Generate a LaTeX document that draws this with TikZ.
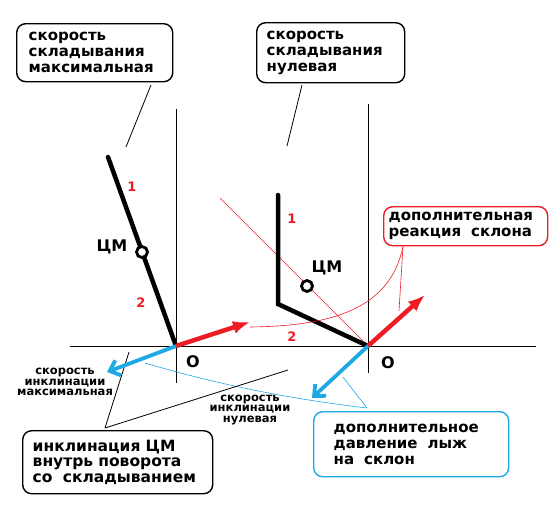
\documentclass[tikz,border=0pt]{standalone}
\usepackage{fontspec}
\setmainfont{DejaVu Sans}
\usetikzlibrary{arrows.meta,calc}
\definecolor{pred}{RGB}{237,28,36}
\definecolor{pblue}{RGB}{30,168,228}
\tikzset{
  x=1pt, y=-1pt,
  thin line/.style={line width=0.8pt},
  rbox/.style={draw, rounded corners=9pt, line width=1.4pt, align=left, anchor=north west,
    font=\bfseries\fontsize{15}{16}\selectfont, inner ysep=0pt},
  body/.style={line width=4.5pt, line cap=round, line join=miter},
  redarrow/.style={pred, line width=4.5pt, -{Latex[length=17pt,width=13pt]}},
  bluearrow/.style={pblue, line width=3.8pt, -{Straight Barb[length=9pt,width=16pt,line width=3.8pt]}},
  cmcirc/.style={draw, fill=white, line width=2.8pt, circle, minimum size=11pt, inner sep=0pt},
  numlab/.style={pred, font=\bfseries\fontsize{13}{13}\selectfont},
  cmlab/.style={font=\bfseries\fontsize{16}{16}\selectfont},
  smalllab/.style={align=center, font=\bfseries\fontsize{11.5}{10.5}\selectfont, inner sep=0pt}
}
\begin{document}
\begin{tikzpicture}
\useasboundingbox (0,0) rectangle (554,528);
% axes
\coordinate (O1) at (176,346);
\coordinate (O2) at (368,346);
\coordinate (v1t) at (176,109);
\coordinate (v1b) at (176,383);
\coordinate (v2t) at (368,104);
\coordinate (v2b) at (368,373);
\coordinate (hl) at (70,346);
\coordinate (hr) at (536,346);
\draw[thin line] (v1t) -- (v1b);
\draw[thin line] (v2t) -- (v2b);
\draw[thin line] (hl) -- (hr);
% thin red line through CM2
\coordinate (rl) at (220,198);
\draw[pred, line width=0.6pt] (rl) -- (O2);
% boxes
\node[rbox, text width=132pt, inner xsep=12pt, minimum height=58pt] (b1) at (16,23)
  {скорость\\складывания\\максимальная};
\node[rbox, text width=128pt, inner xsep=10pt, minimum height=60pt] (b2) at (256,22)
  {скорость\\складывания\\нулевая};
\node[rbox, draw=pred, text width=154pt, inner xsep=5pt, minimum height=39pt] (b3) at (383,206)
  {дополнительная\\реакция\ \ склона};
\node[rbox, draw=pblue, text width=155pt, inner xsep=20pt, minimum height=65pt] (b4) at (313,411)
  {дополнительное\\давление\ \ лыж\\на\ \ склон};
\node[rbox, text width=170pt, inner xsep=10pt, minimum height=63pt,
  font=\bfseries\fontsize{15.5}{15.5}\selectfont] (b5) at (22,430)
  {инклинация ЦМ\\внутрь поворота\\со\ \ складыванием};
% box connectors
\coordinate (c1a) at (151,85);
\coordinate (c1b) at (126,147);
\draw[thin line] (c1a) -- (c1b);
\coordinate (c2a) at (302,85);
\coordinate (c2b) at (287,146);
\draw[thin line] (c2a) -- (c2b);
% bodies
\coordinate (h1) at (108,157);
\coordinate (h2) at (278,195);
\coordinate (k2) at (278,304);
\draw[body] (h1) -- (O1);
\draw[body] (h2) -- (k2) -- (O2);
% red connectors
\coordinate (r3) at ($(b3.south west)+(20,0)$);
\coordinate (ra1) at (250,327);
\coordinate (ra2) at (399,311);
\draw[pred, line width=0.6pt] (ra1) .. controls (330,326) and (390,310) .. (r3);
\draw[pred, line width=0.6pt] (r3) -- (ra2);
% blue connectors
\coordinate (bl1) at (145,363);
\coordinate (bl2) at (343,377);
\coordinate (b4t) at ($(b4.north west)+(54,-3)$);
\draw[pblue, line width=0.6pt] (bl1) .. controls (230,388) and (300,400) .. (b4t);
\draw[pblue, line width=0.6pt] (bl2) -- (b4t);
% black connectors from box 5
\coordinate (b5t) at ($(b5.north west)+(83,-2)$);
\coordinate (k5a) at (129,352);
\coordinate (k5b) at (288,370);
\draw[thin line] (b5t) -- (k5a);
\draw[thin line] (b5t) -- (k5b);
% arrows
\coordinate (ta1) at (250,322);
\coordinate (ta2) at (425,295);
\coordinate (tb1) at (107,372);
\coordinate (tb2) at (312,398);
\draw[redarrow] (O1) -- (ta1);
\draw[redarrow] (O2) -- (ta2);
\draw[bluearrow] (O1) -- (tb1);
\draw[bluearrow] (O2) -- (tb2);
% CM circles
\node[cmcirc] (cm1) at (142,252) {};
\node[cmcirc] (cm2) at (307,286) {};
% labels
\node[cmlab] (lcm1) at (112,247) {ЦМ};
\node[cmlab] (lcm2) at (327,268) {ЦМ};
\node[numlab] (n11) at (132,187) {1};
\node[numlab] (n12) at (141,303) {2};
\node[numlab] (n21) at (292,219) {1};
\node[numlab] (n22) at (292,337) {2};
\node[cmlab] (lo1) at (193,362) {O};
\node[cmlab] (lo2) at (388,363) {O};
\node[smalllab] (s1) at (65,382) {скорость\\инклинации\\максимальная};
\node[smalllab] (s2) at (250,410) {скорость\\инклинации\\нулевая};
\end{tikzpicture}
\end{document}
